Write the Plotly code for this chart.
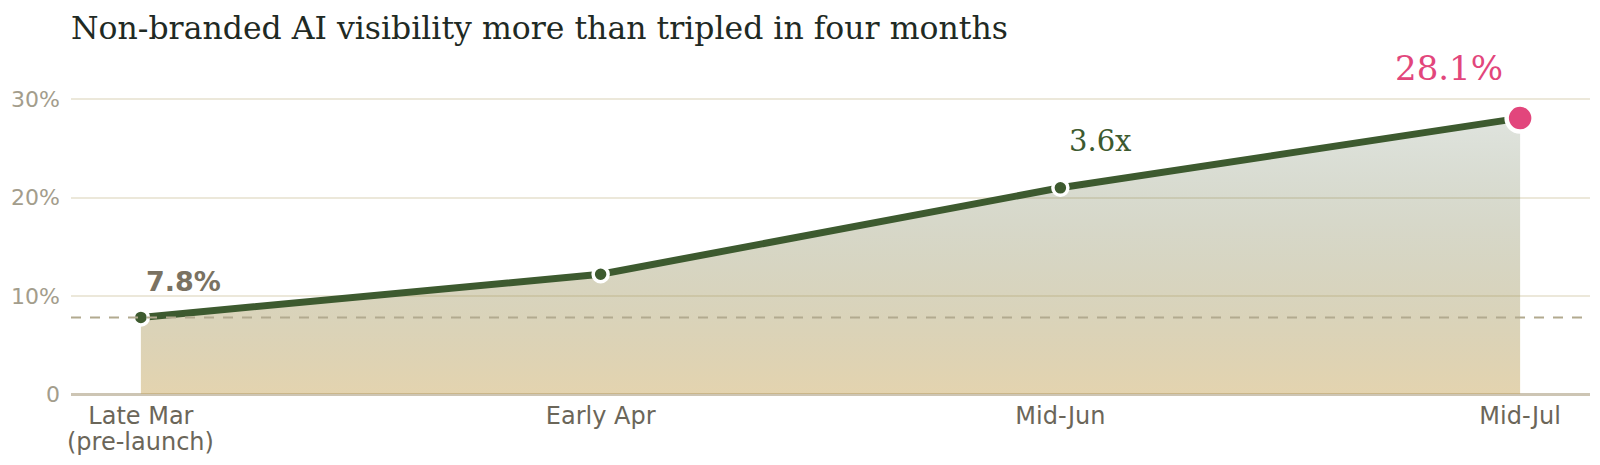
import plotly.graph_objects as go

categories = ["Late Mar", "Early Apr", "Mid-Jun", "Mid-Jul"]
sublabels = ["(pre-launch)", "", "", ""]
values = [7.8, 12.2, 21.0, 28.1]
baseline = 7.8
y_tickvals = [0, 10, 20, 30]
y_ticktext = ["0", "10%", "20%", "30%"]
title = "Non-branded AI visibility more than tripled in four months"

GREEN = "#3d5a2f"
PINK = "#e2467c"

fig = go.Figure()

fig.add_trace(go.Scatter(
    x=categories, y=values, mode="lines", fill="tozeroy",
    line=dict(color=GREEN, width=7),
    fillgradient=dict(type="vertical", colorscale=[
        [0, "rgba(200,168,95,0.5)"],
        [1, "rgba(70,95,60,0.17)"]]),
    hoverinfo="skip", showlegend=False,
))

fig.add_trace(go.Scatter(
    x=categories[:3], y=values[:3], mode="markers",
    marker=dict(color=GREEN, size=15, line=dict(color="white", width=3.5)),
    showlegend=False, cliponaxis=False,
))
fig.add_trace(go.Scatter(
    x=categories[3:], y=values[3:], mode="markers",
    marker=dict(color=PINK, size=27, line=dict(color="white", width=4.5)),
    showlegend=False, cliponaxis=False,
))

fig.add_shape(type="line", xref="paper", x0=0, x1=1, yref="y", y0=baseline, y1=baseline,
              line=dict(color="#b2aa8f", width=2, dash="10px,9px"), layer="above")

fig.add_annotation(x=categories[0], y=values[0], text="<b>7.8%</b>", showarrow=False,
                   xanchor="left", yanchor="middle", xshift=3, yshift=36,
                   font=dict(family="DejaVu Sans", size=27, color="#7a7262"))
fig.add_annotation(x=categories[2], y=values[2], text="3.6x", showarrow=False,
                   xanchor="left", yanchor="middle", xshift=7, yshift=47,
                   font=dict(family="DejaVu Serif", size=29, color=GREEN))
fig.add_annotation(x=categories[3], y=values[3], text="28.1%", showarrow=False,
                   xanchor="center", yanchor="middle", xshift=-71, yshift=50,
                   font=dict(family="DejaVu Serif", size=34, color=PINK))

for cat, sub in zip(categories, sublabels):
    if sub:
        fig.add_annotation(x=cat, y=0, yref="y", text=sub, showarrow=False,
                           xanchor="center", yanchor="middle", yshift=-48,
                           font=dict(family="DejaVu Sans", size=24, color="#6b6659"))

fig.update_layout(
    width=1600, height=465,
    margin=dict(l=71, r=10, t=70, b=71),
    paper_bgcolor="white", plot_bgcolor="white",
    title=dict(text=title, x=71 / 1600, xref="container", xanchor="left",
               y=1 - 28.3 / 465, yref="container", yanchor="middle",
               font=dict(family="DejaVu Serif", size=31.5, color="#1f2a24")),
    xaxis=dict(type="category", range=[-0.152, 3.152], showgrid=False, zeroline=False,
               showline=False, ticks="", ticklabelstandoff=5,
               tickfont=dict(family="DejaVu Sans", size=24, color="#6b6659")),
    yaxis=dict(range=[0, 33], tickvals=y_tickvals, ticktext=y_ticktext,
               showgrid=True, gridcolor="#ece8da", gridwidth=2,
               zeroline=True, zerolinecolor="#cdc5b4", zerolinewidth=2.5,
               showline=False, ticks="", ticklabelstandoff=10,
               tickfont=dict(family="DejaVu Sans", size=22, color="#a39d8c")),
)

fig.write_html(
    "out.html",
    config={"displayModeBar": False},
    post_script="document.body.style.margin='0';document.body.style.overflow='hidden';",
)
